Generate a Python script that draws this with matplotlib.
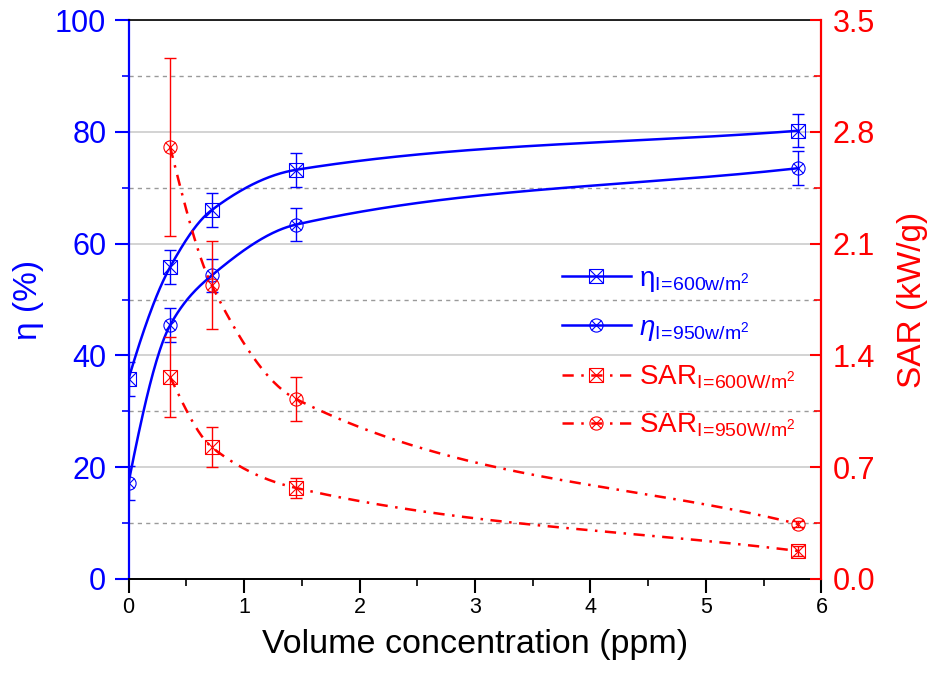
import numpy as np
import matplotlib
matplotlib.use("Agg")
import matplotlib.pyplot as plt
from matplotlib.lines import Line2D
from matplotlib.ticker import MultipleLocator

plt.rcParams['font.family'] = ['Liberation Sans', 'DejaVu Sans']
plt.rcParams['mathtext.fontset'] = 'custom'
plt.rcParams['mathtext.rm'] = 'Liberation Sans'
plt.rcParams['mathtext.it'] = 'Liberation Sans:italic'
plt.rcParams['mathtext.bf'] = 'Liberation Sans:bold'

# ---------------- data ----------------
conc = [0, 0.36, 0.72, 1.45, 5.8]
eta600 = [35.8, 55.8, 66.0, 73.2, 80.2]
eta600_err = [3, 3, 3, 3, 3]
eta950 = [17.2, 45.4, 54.3, 63.4, 73.5]
eta950_err = [3, 3, 3, 3, 3]

sar_conc = [0.36, 0.72, 1.45, 5.8]
sar600 = [1.265, 0.826, 0.57, 0.175]
sar600_err = [0.25, 0.125, 0.06, 0.03]
sar950 = [2.705, 1.84, 1.127, 0.344]
sar950_err = [0.555, 0.276, 0.135, 0.02]

xticks = [0, 1, 2, 3, 4, 5, 6]
eta_ticks = [0, 20, 40, 60, 80, 100]
sar_ticks = [0.0, 0.7, 1.4, 2.1, 2.8, 3.5]

labels = [r'$\mathrm{η}_{\mathrm{I\!=\!600w/m^2}}$',
          r'$\mathit{η}_{\mathrm{I\!=\!950w/m^2}}$',
          r'$\mathrm{SAR}_{\mathrm{I\!=\!600W/m^2}}$',
          r'$\mathrm{SAR}_{\mathrm{I\!=\!950W/m^2}}$']
xlabel = 'Volume concentration (ppm)'
ylabel_l = 'η (%)'
ylabel_r = 'SAR (kW/g)'

BLUE = '#0000FF'
RED = '#FF0000'


def smooth(x, y, xs):
    """Monotone cubic Hermite (PCHIP interior slopes, secant end slopes)."""
    x = np.asarray(x, float); y = np.asarray(y, float)
    h = np.diff(x); d = np.diff(y) / h
    n = len(x); m = np.zeros(n)
    for k in range(1, n - 1):
        if d[k - 1] * d[k] <= 0:
            m[k] = 0
        else:
            w1 = 2 * h[k] + h[k - 1]; w2 = h[k] + 2 * h[k - 1]
            m[k] = (w1 + w2) / (w1 / d[k - 1] + w2 / d[k])
    s0 = ((2 * h[0] + h[1]) * d[0] - h[0] * d[1]) / (h[0] + h[1])
    if np.sign(s0) != np.sign(d[0]):
        s0 = 0
    elif abs(s0) > abs(3 * d[0]):
        s0 = 3 * d[0]
    m[0] = s0
    m[-1] = d[-1]
    xs = np.asarray(xs, float)
    idx = np.clip(np.searchsorted(x, xs) - 1, 0, n - 2)
    t = (xs - x[idx]) / h[idx]
    h00 = 2 * t**3 - 3 * t**2 + 1; h10 = t**3 - 2 * t**2 + t
    h01 = -2 * t**3 + 3 * t**2; h11 = t**3 - t**2
    return h00 * y[idx] + h10 * h[idx] * m[idx] + h01 * y[idx + 1] + h11 * h[idx] * m[idx + 1]


fig = plt.figure(figsize=(9.3, 6.79), dpi=100)
ax = fig.add_axes([0.1382, 0.1473, 0.7451, 0.8232])
ax2 = ax.twinx()

MS = 9.5
MEW = 0.8
LW = 1.8
DASH = (0, (4.5, 3, 1, 3))

# eta curves
xs = np.linspace(conc[0], conc[-1], 600)
ax.plot(xs, smooth(conc, eta600, xs), color=BLUE, lw=LW, zorder=3)
ax.plot(xs, smooth(conc, eta950, xs), color=BLUE, lw=LW, zorder=3)
for yv, ev, mk, xs_scale in [(eta600, eta600_err, 's', 1.0), (eta950, eta950_err, 'o', 0.75)]:
    ax.errorbar(conc, yv, yerr=ev, fmt='none', ecolor=BLUE, elinewidth=1.0,
                capsize=4.3, capthick=1.0, zorder=4)
    ax.plot(conc, yv, ls='none', marker=mk, ms=MS, mfc='none', mec=BLUE, mew=MEW, zorder=5)
    ax.plot(conc, yv, ls='none', marker='x', ms=MS * xs_scale, mec=BLUE, mew=MEW, zorder=5)

# SAR curves
xs2 = np.linspace(sar_conc[0], sar_conc[-1], 600)
ax2.plot(xs2, smooth(sar_conc, sar600, xs2), color=RED, lw=LW, ls=DASH, zorder=3)
ax2.plot(xs2, smooth(sar_conc, sar950, xs2), color=RED, lw=LW, ls=DASH, zorder=3)
for yv, ev, mk, xs_scale in [(sar600, sar600_err, 's', 1.0), (sar950, sar950_err, 'o', 0.75)]:
    ax2.errorbar(sar_conc, yv, yerr=ev, fmt='none', ecolor=RED, elinewidth=1.0,
                 capsize=4.3, capthick=1.0, zorder=4)
    ax2.plot(sar_conc, yv, ls='none', marker=mk, ms=MS, mfc='none', mec=RED, mew=MEW, zorder=5)
    ax2.plot(sar_conc, yv, ls='none', marker='x', ms=MS * xs_scale, mec=RED, mew=MEW, zorder=5)

# axes limits & ticks
ax.set_xlim(0, 6)
ax.set_ylim(0, 100)
ax2.set_ylim(0, 3.5)
ax.set_xticks(xticks)
ax.xaxis.set_minor_locator(MultipleLocator(0.5))
ax.set_yticks(eta_ticks)
ax.yaxis.set_minor_locator(MultipleLocator(10))
ax2.set_yticks(sar_ticks)
ax2.set_yticklabels([f'{v:.1f}' for v in sar_ticks])
ax2.yaxis.set_minor_locator(MultipleLocator(0.35))

ax.tick_params(axis='x', which='major', direction='out', length=10, width=1.5,
               colors='black', labelsize=15.5, pad=3)
ax.tick_params(axis='x', which='minor', direction='out', length=5, width=1.2, colors='black')
ax.tick_params(axis='y', which='major', direction='out', length=10, width=1.5,
               colors=BLUE, labelsize=22, pad=6)
ax.tick_params(axis='y', which='minor', direction='out', length=5, width=1.2, colors=BLUE)
ax2.tick_params(axis='y', which='major', direction='in', length=8, width=1.5,
                colors=RED, labelsize=22, pad=8)
ax2.tick_params(axis='y', which='minor', direction='in', length=5, width=1.2, colors=RED)

# grid
ax.set_axisbelow(True)
ax.yaxis.grid(True, which='major', color='#d3d3d3', lw=1.4, ls='-')
ax.yaxis.grid(True, which='minor', color='#9a9a9a', lw=1.0, ls=(0, (3, 3)))

# spines
for s in ['left', 'right', 'top', 'bottom']:
    ax2.spines[s].set_visible(False)
ax.spines['right'].set_visible(False)
ax2.spines['right'].set_visible(True)
ax2.spines['right'].set_color(RED)
ax2.spines['right'].set_linewidth(1.6)
ax.spines['left'].set_color(BLUE)
ax.spines['left'].set_linewidth(1.6)
ax.spines['bottom'].set_color('black')
ax.spines['bottom'].set_linewidth(1.4)
ax.spines['top'].set_color('black')
ax.spines['top'].set_linewidth(1.2)

ax.set_xlabel(xlabel, fontsize=24.5, labelpad=8)
ax.set_ylabel(ylabel_l, fontsize=24, color=BLUE, labelpad=8)
ax2.set_ylabel(ylabel_r, fontsize=24, color=RED, labelpad=16)

# legend
def handle(color, mk, ls, xs_scale):
    return (Line2D([], [], color=color, lw=LW, ls=ls, marker=mk, ms=MS, mfc='none', mec=color, mew=MEW),
            Line2D([], [], ls='none', marker='x', ms=MS * xs_scale, mec=color, mew=MEW))

handles = [handle(BLUE, 's', '-', 1.0), handle(BLUE, 'o', '-', 0.75),
           handle(RED, 's', DASH, 1.0), handle(RED, 'o', DASH, 0.75)]
leg = ax2.legend(handles, labels, loc='upper left', bbox_to_anchor=(0.625, 0.56),
                 frameon=False, fontsize=20, handlelength=2.5, handletextpad=0.3,
                 labelspacing=0.75, borderpad=0, borderaxespad=0,
                 labelcolor=[BLUE, BLUE, RED, RED])

fig.savefig('out.png', dpi=100)
